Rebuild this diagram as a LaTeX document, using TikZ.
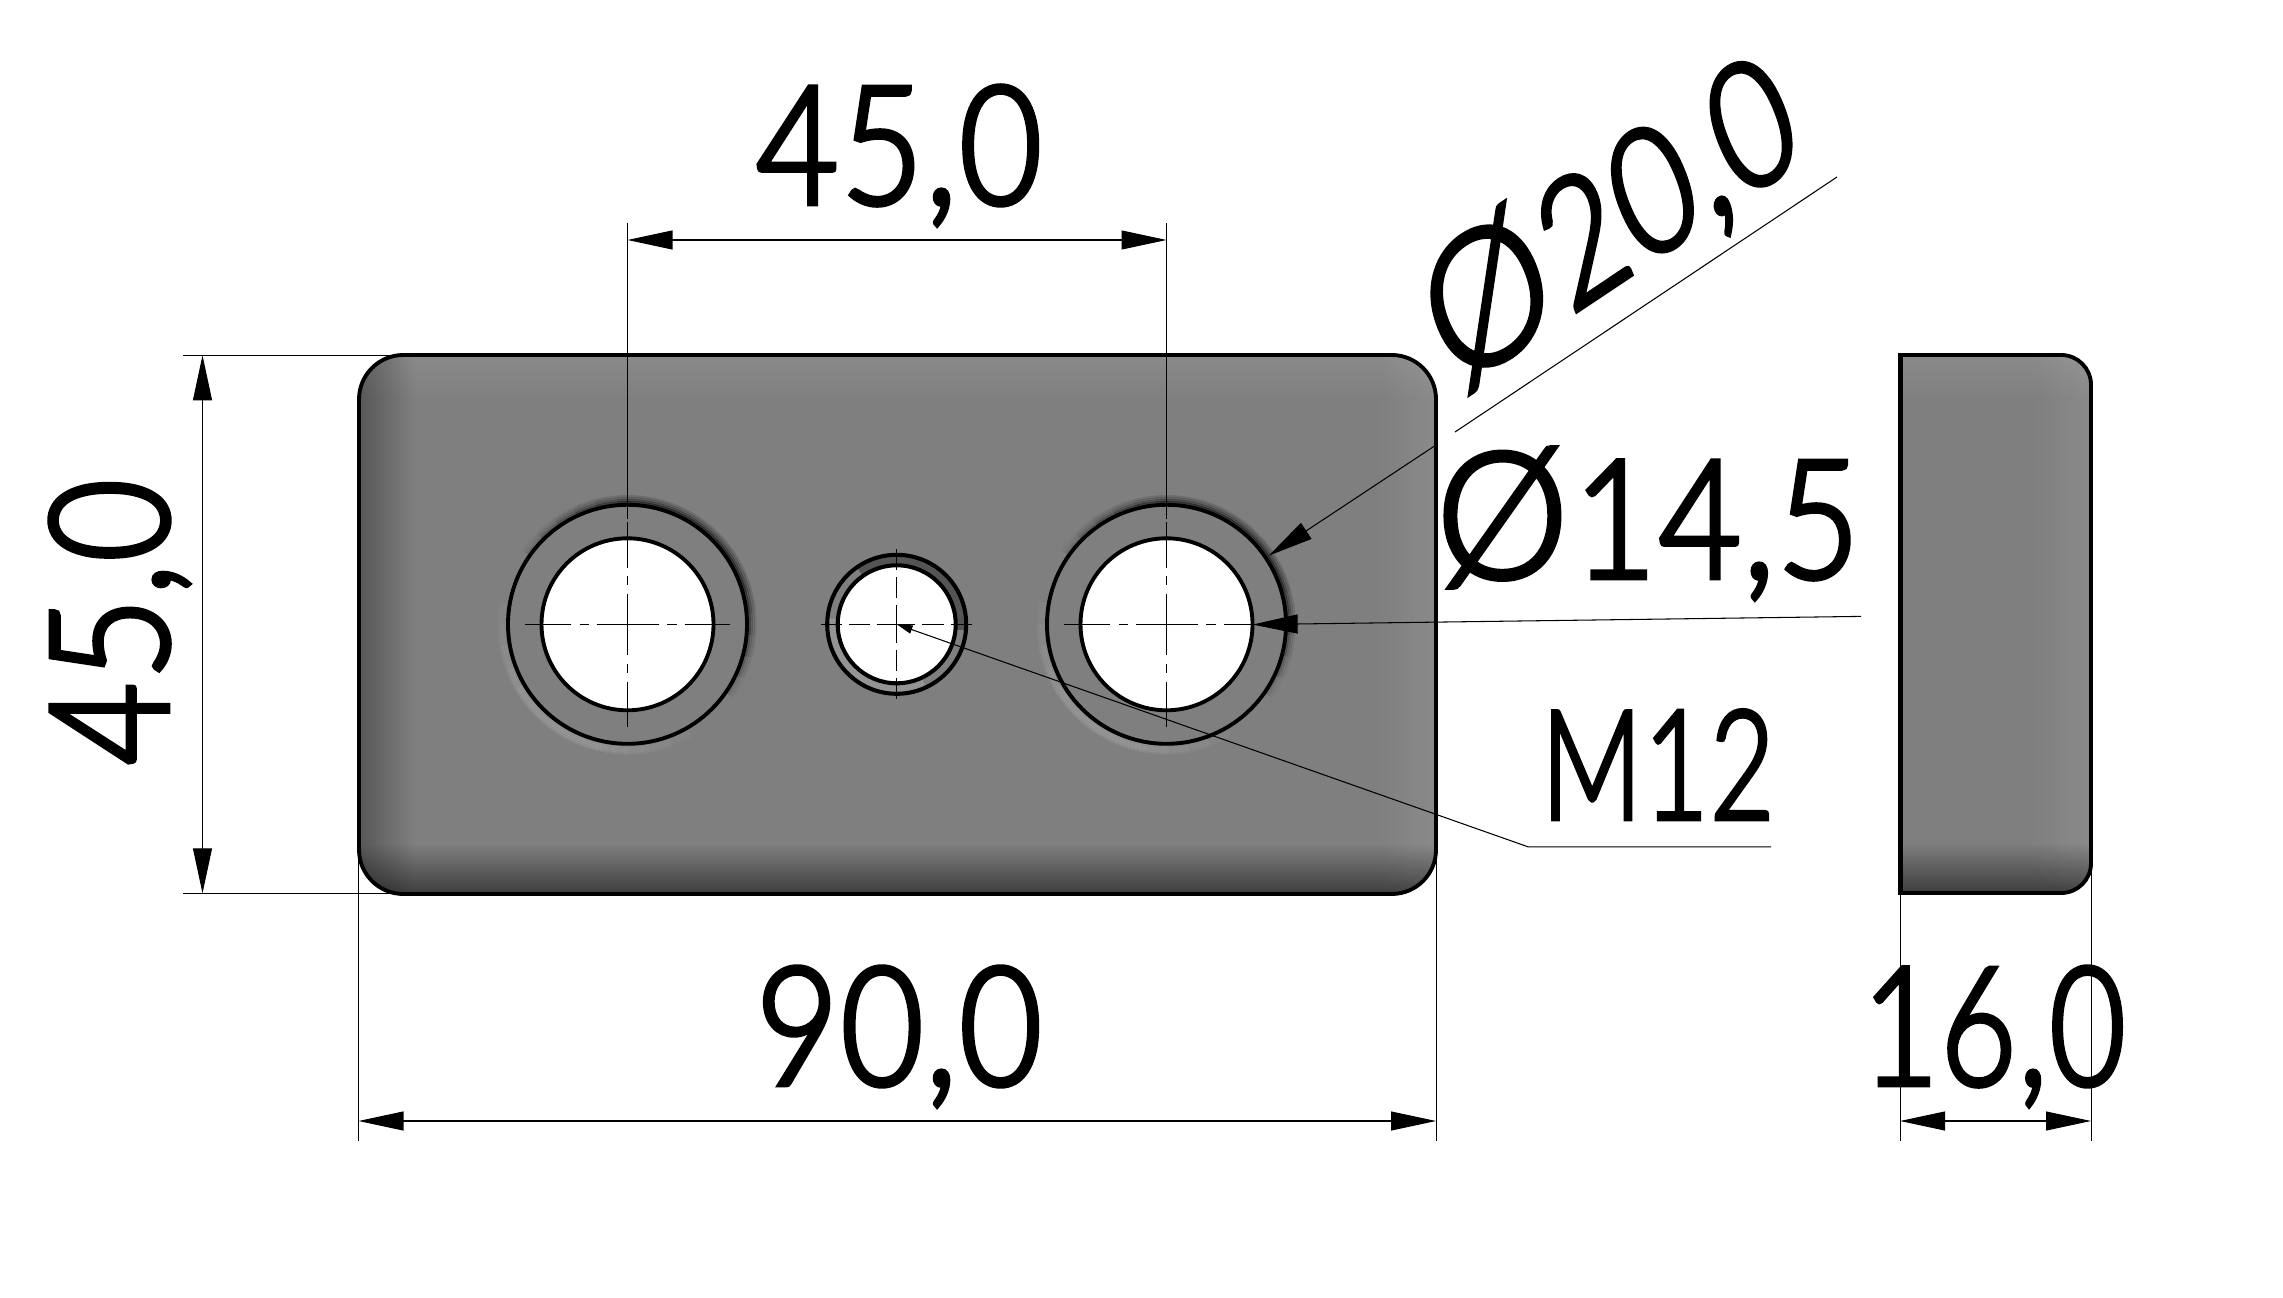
\documentclass[tikz,border=0pt]{standalone}
\usepackage{fontspec}
\usepackage{xcolor}
\newfontfamily\dimfont[FakeStretch=0.86,FakeBold=3,LetterSpace=1.5]{Lato Light}
\newfontfamily\diafont[FakeStretch=0.95,FakeBold=3]{Lato Light}
\usetikzlibrary{calc}
\usetikzlibrary{positioning}
\usetikzlibrary{arrows.meta}
\usetikzlibrary{fadings}
\definecolor{plategray}{HTML}{7F7F7F}
\newcommand{\dia}{{\diafont\fontsize{50}{50}\selectfont Ø}\hspace{1.5pt}}

\begin{document}
\begin{tikzpicture}[x=0.01cm,y=-0.01cm]
	\tikzset{>={Triangle[length=12.8pt,width=5.4pt]}}
	\tikzset{dimline/.style={line width=0.3pt,black}}
	\tikzset{outline/.style={line width=1.1pt,black}}
	\tikzset{dimtext/.style={inner sep=0pt,anchor=base,font=\dimfont\fontsize{47}{50}\selectfont}}
	\tikzset{bigcenter/.style={line width=0.3pt,dash pattern=on 13pt off 2.5pt on 2.6pt off 2.4pt on 17.5pt off 2.5pt on 2.6pt off 2.4pt on 13pt}}
	\tikzset{smallcenter/.style={line width=0.3pt,dash pattern=on 6pt off 2pt on 6pt off 2pt on 10.8pt off 2pt on 6pt off 2pt on 6pt}}
	\useasboundingbox (0,0) rectangle (2283,1298);
	
	\coordinate (L) at (627.5,624.3);
	\coordinate (R) at (1166.5,624.3);
	\coordinate (M) at (896.7,624.3);
	
	% front view
	\begin{scope}
		\clip[rounded corners=12.6pt] (359,355) rectangle (1436,894);
		\fill[plategray] (359,355) rectangle (1436,894);
		\fill[white,opacity=.14,path fading=south] (359,330) rectangle (1436,400);
		\fill[white,opacity=.10,path fading=west] (1376,355) rectangle (1446,894);
		\fill[black,opacity=.40,path fading=east] (344,355) rectangle (414,894);
		\fill[black,opacity=.62,path fading=north] (359,844) rectangle (1436,904);
	\end{scope}
	\draw[outline,rounded corners=12.6pt] (359,355) rectangle (1436,894);
	
	% side view
	\begin{scope}
		\clip (1900,355) [rounded corners=8.5pt] -- (2091,355) -- (2091,893) [sharp corners] -- (1900,893) -- cycle;
		\fill[plategray] (1900,355) rectangle (2091,893);
		\fill[white,opacity=.14,path fading=south] (1900,330) rectangle (2091,400);
		\fill[white,opacity=.10,path fading=west] (2031,355) rectangle (2101,893);
		\fill[black,opacity=.62,path fading=north] (1900,843) rectangle (2091,903);
	\end{scope}
	\draw[outline] (1900,355) [rounded corners=8.5pt] -- (2091,355) -- (2091,893) [sharp corners] -- (1900,893) -- cycle;
	\draw[line width=1.3pt] (1900.5,355) -- (1900.5,893);
	
	% the two counterbored holes
	\foreach \c in {L,R} {
		\foreach \a/\b in {-145/35,-135/25,-125/15,-115/5,-105/-5,-95/-15} {
			\foreach \r/\o in {122/.12,124/.07,126/.04,128/.02} {
				\draw[black,opacity=\o,line width=0.7pt] (\c) ++(\a:\r) arc (\a:\b:\r);
			}
		}
		\foreach \a/\b in {60/190,70/180,80/170,90/160,100/150} {
			\foreach \r/\o in {123/.03,125/.03,127/.03,129/.02} {
				\draw[white,opacity=\o,line width=0.7pt] (\c) ++(\a:\r) arc (\a:\b:\r);
			}
		}
		\draw[outline] (\c) circle (119.5);
		\draw[outline,fill=white] (\c) circle (86);
	}
	
	% threaded hole
	\draw[line width=2.3pt,color=black!67] (M) ++(-125:64.5) arc (-125:5:64.5);
	\draw[line width=2.3pt,color=black!42] (M) ++(65:64.5) arc (65:185:64.5);
	\draw[line width=1.15pt] (M) circle (69.5);
	\draw[line width=1.15pt,fill=white] (M) circle (59);
	
	% centre lines
	\foreach \c in {L,R} {
		\draw[bigcenter] ($(\c)+(-102.5,0)$) -- ($(\c)+(102.5,0)$);
		\draw[bigcenter] ($(\c)+(0,-102.5)$) -- ($(\c)+(0,102.5)$);
	}
	\draw[smallcenter] ($(M)+(-75.5,0)$) -- ($(M)+(75.5,0)$);
	\draw[smallcenter] ($(M)+(0,-75.5)$) -- ($(M)+(0,75.5)$);
	
	% extension lines
	\coordinate (A) at (627.5,223);
	\coordinate (B) at (1166.5,223);
	\coordinate (C) at (183,355.3);
	\coordinate (D) at (183,893.3);
	\coordinate (E) at (358.5,1141);
	\coordinate (F) at (1436,1141);
	\coordinate (G) at (1900,1141);
	\coordinate (H) at (2091,1141);
	\draw[dimline] (A) -- (627.5,519);
	\draw[dimline] (B) -- (1166.5,519);
	\draw[dimline] (C) -- (400,355.3);
	\draw[dimline] (D) -- (400,893.3);
	\draw[dimline] (E) -- (358.5,860);
	\draw[dimline] (F) -- (1436,860);
	\draw[dimline] (G) -- (1900,893);
	\draw[dimline] (H) -- (2091,860);
	
	% dimensions
	\draw[dimline,<->] (627.5,240) -- (1166.5,240);
	\draw[dimline,<->] (202.5,355.3) -- (202.5,893.3);
	\draw[dimline,<->] (358.5,1121) -- (1436,1121);
	\draw[dimline,->] (1947,1121) -- (1900,1121);
	\draw[dimline,->] (2046,1121) -- (2091,1121);
	\draw[dimline] (1947,1121) -- (2046,1121);
	
	% leaders
	\coordinate (P) at (1268.7,555.7);
	\coordinate (Q) at (1434.5,446);
	\coordinate (S) at (1455,432);
	\coordinate (T) at (1837,177);
	\draw[dimline,->] (Q) -- (P);
	\draw[dimline] (S) -- (T);
	\coordinate (U) at (1252.6,624.6);
	\coordinate (V) at (1861,616.4);
	\draw[dimline,->] (V) -- (U);
	\coordinate (W) at (1528,846.8);
	\coordinate (X) at (1771,846.8);
	\draw[dimline,-{Triangle[length=4.5pt,width=2.4pt]}] (X) -- (W) -- (M);
	
	% labels
	\node[dimtext] (topdim) at (899,204) {45,0};
	\node[dimtext] (widthdim) at (899,1085) {90,0};
	\node[dimtext,xscale=0.92,transform shape] (sidedim) at (1994,1085) {16,0};
	\node[dimtext,rotate=90] (heightdim) at (168,622) {45,0};
	\node[dimtext,xscale=0.78,yscale=0.92,transform shape] (threadlabel) at (1658,819) {M12};
	\node[dimtext] (borelabel) at (1648,578) {\dia 14,5};
	\node[dimtext,rotate=33.7,xslant=0.2,transform shape] (headlabel) at (1632,274) {\dia 20,0};
\end{tikzpicture}
\end{document}
